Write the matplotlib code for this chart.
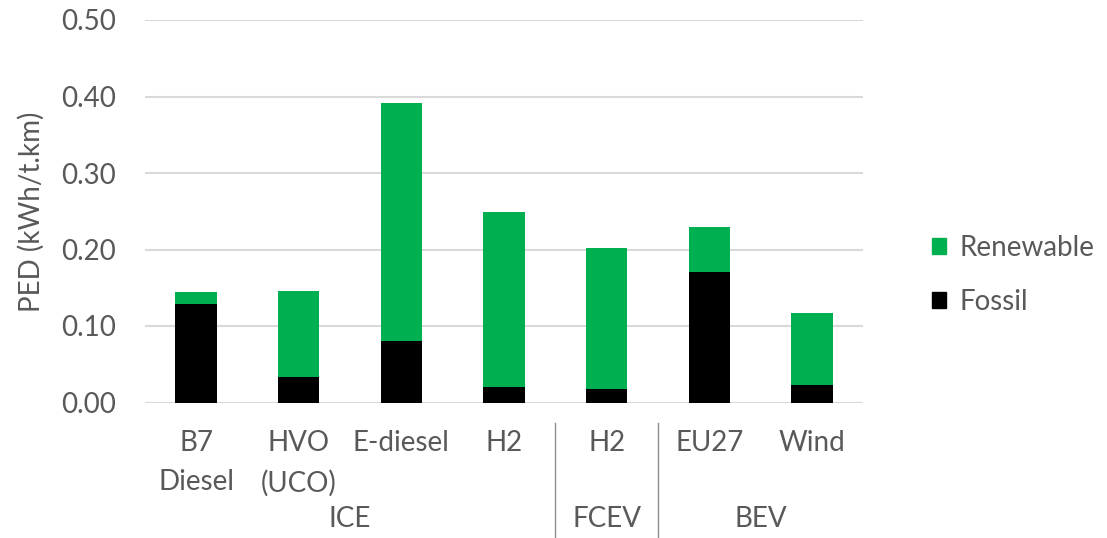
"""Primary energy demand per tonne-km, split into fossil and renewable shares."""

import matplotlib
matplotlib.use("Agg")
import matplotlib.pyplot as plt
from matplotlib.patches import Patch

# Data
categories = ["B7\nDiesel", "HVO\n(UCO)", "E-diesel", "H2", "H2", "EU27", "Wind"]
groups = ["ICE", "FCEV", "BEV"]
group_sizes = [4, 1, 2]
fossil = [0.129, 0.033, 0.081, 0.020, 0.018, 0.170, 0.023]
total = [0.144, 0.146, 0.392, 0.249, 0.202, 0.230, 0.117]
renewable = [t - f for t, f in zip(total, fossil)]

yticks = [0.0, 0.1, 0.2, 0.3, 0.4, 0.5]

# Styling
GREEN = "#00B050"
BLACK = "#000000"
TEXT = "#595959"
GRID = "#D9D9D9"
SEP = "#8C8C8C"
FONT_SIZE = 20

plt.rcParams["font.family"] = ["Lato", "DejaVu Sans"]

fig = plt.figure(figsize=(11.07, 5.38), dpi=100)
ax = fig.add_axes([144.7 / 1107, 1 - 402.5 / 538, 718.6 / 1107, 382.5 / 538])

x = list(range(len(categories)))
ax.bar(x, fossil, width=0.4, color=BLACK, zorder=3)
ax.bar(x, renewable, width=0.4, bottom=fossil, color=GREEN, zorder=3)

ax.set_xlim(-0.5, len(categories) - 0.5)
ax.set_ylim(0, 0.5)
ax.set_yticks(yticks)
ax.set_yticklabels([f"{v:.2f}" for v in yticks])
ax.grid(axis="y", color=GRID, linewidth=1.5, zorder=0)
ax.set_axisbelow(True)
for side in ["top", "right", "left", "bottom"]:
    ax.spines[side].set_visible(False)

ax.tick_params(axis="y", length=0, pad=21, labelsize=FONT_SIZE, labelcolor=TEXT)
ax.set_xticks(x)
ax.set_xticklabels(categories, linespacing=1.6)
ax.tick_params(axis="x", length=0, pad=20, labelsize=FONT_SIZE, labelcolor=TEXT)

# Group labels and separators under the category axis
trans = ax.get_xaxis_transform()
start = 0
for name, size in zip(groups, group_sizes):
    centre = start + (size - 1) / 2
    ax.text(centre, -0.3247, name, transform=trans, ha="center", va="baseline",
            fontsize=FONT_SIZE, color=TEXT)
    if start > 0:
        ax.plot([start - 0.5, start - 0.5], [-0.053, -0.36], transform=trans,
                color=SEP, linewidth=1, clip_on=False)
    start += size

fig.text(31 / 1107, 1 - 212 / 538, "PED (kWh/t.km)", rotation=90, ha="center",
         va="center", fontsize=FONT_SIZE, color=TEXT)

handles = [Patch(color=GREEN, label="Renewable"), Patch(color=BLACK, label="Fossil")]
fig.legend(handles=handles, loc="center left", bbox_to_anchor=(932 / 1107, 1 - 275 / 538),
           frameon=False, fontsize=FONT_SIZE, labelcolor=TEXT, handlelength=0.5,
           handleheight=0.5, handletextpad=0.5, labelspacing=1.0, borderpad=0,
           borderaxespad=0)

fig.savefig("out.png", dpi=100)
